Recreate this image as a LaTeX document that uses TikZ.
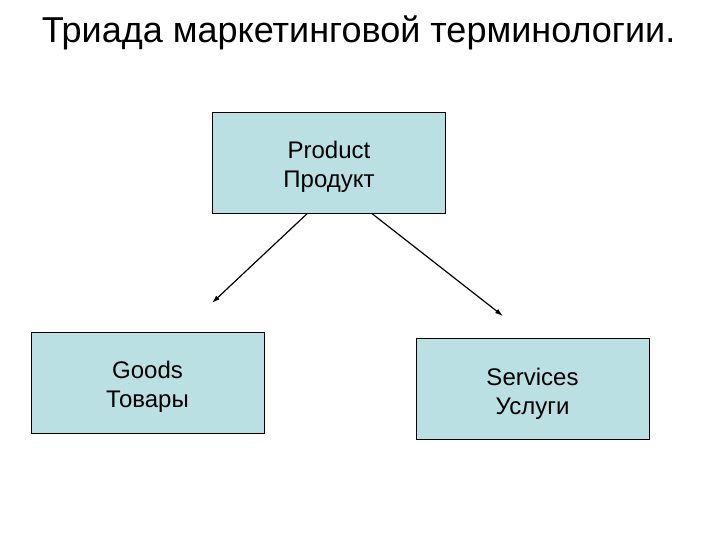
\documentclass[tikz,border=0pt]{standalone}
\usepackage{fontspec}
\setmainfont{Liberation Sans}
\usetikzlibrary{arrows.meta}
\tikzset{>={Latex[length=8pt,width=5pt]}}
\definecolor{boxblue}{RGB}{187,224,227}
\newcommand{\boxstrut}{\rule{0pt}{26pt}}
\tikzstyle{termbox}=[draw=black,line width=0.75pt,fill=boxblue,minimum width=233pt,minimum height=101pt,align=center,font=\fontsize{24}{29}\selectfont]
\tikzstyle{termarrow}=[draw=black,line width=1.2pt,->]

\begin{document}
\begin{tikzpicture}[x=1pt,y=-1pt]
  \useasboundingbox (0,0) rectangle (720,540);
  \node [anchor=base,font=\fontsize{36}{42}\selectfont] (title) at (358.5,43) {Триада маркетинговой терминологии.};

  \node [termbox] (product) at (329,162.5) {\boxstrut Product\\Продукт};
  \node [termbox] (goods) at (147.5,382.5) {\boxstrut Goods\\Товары};
  \node [termbox] (services) at (532.5,389) {\boxstrut Services\\Услуги};

  \coordinate (goodsend) at (212,303);
  \coordinate (servicesend) at (503,316);
  \draw [termarrow] (product.247) -- (goodsend);
  \draw [termarrow] (product.310) -- (servicesend);
\end{tikzpicture}
\end{document}
